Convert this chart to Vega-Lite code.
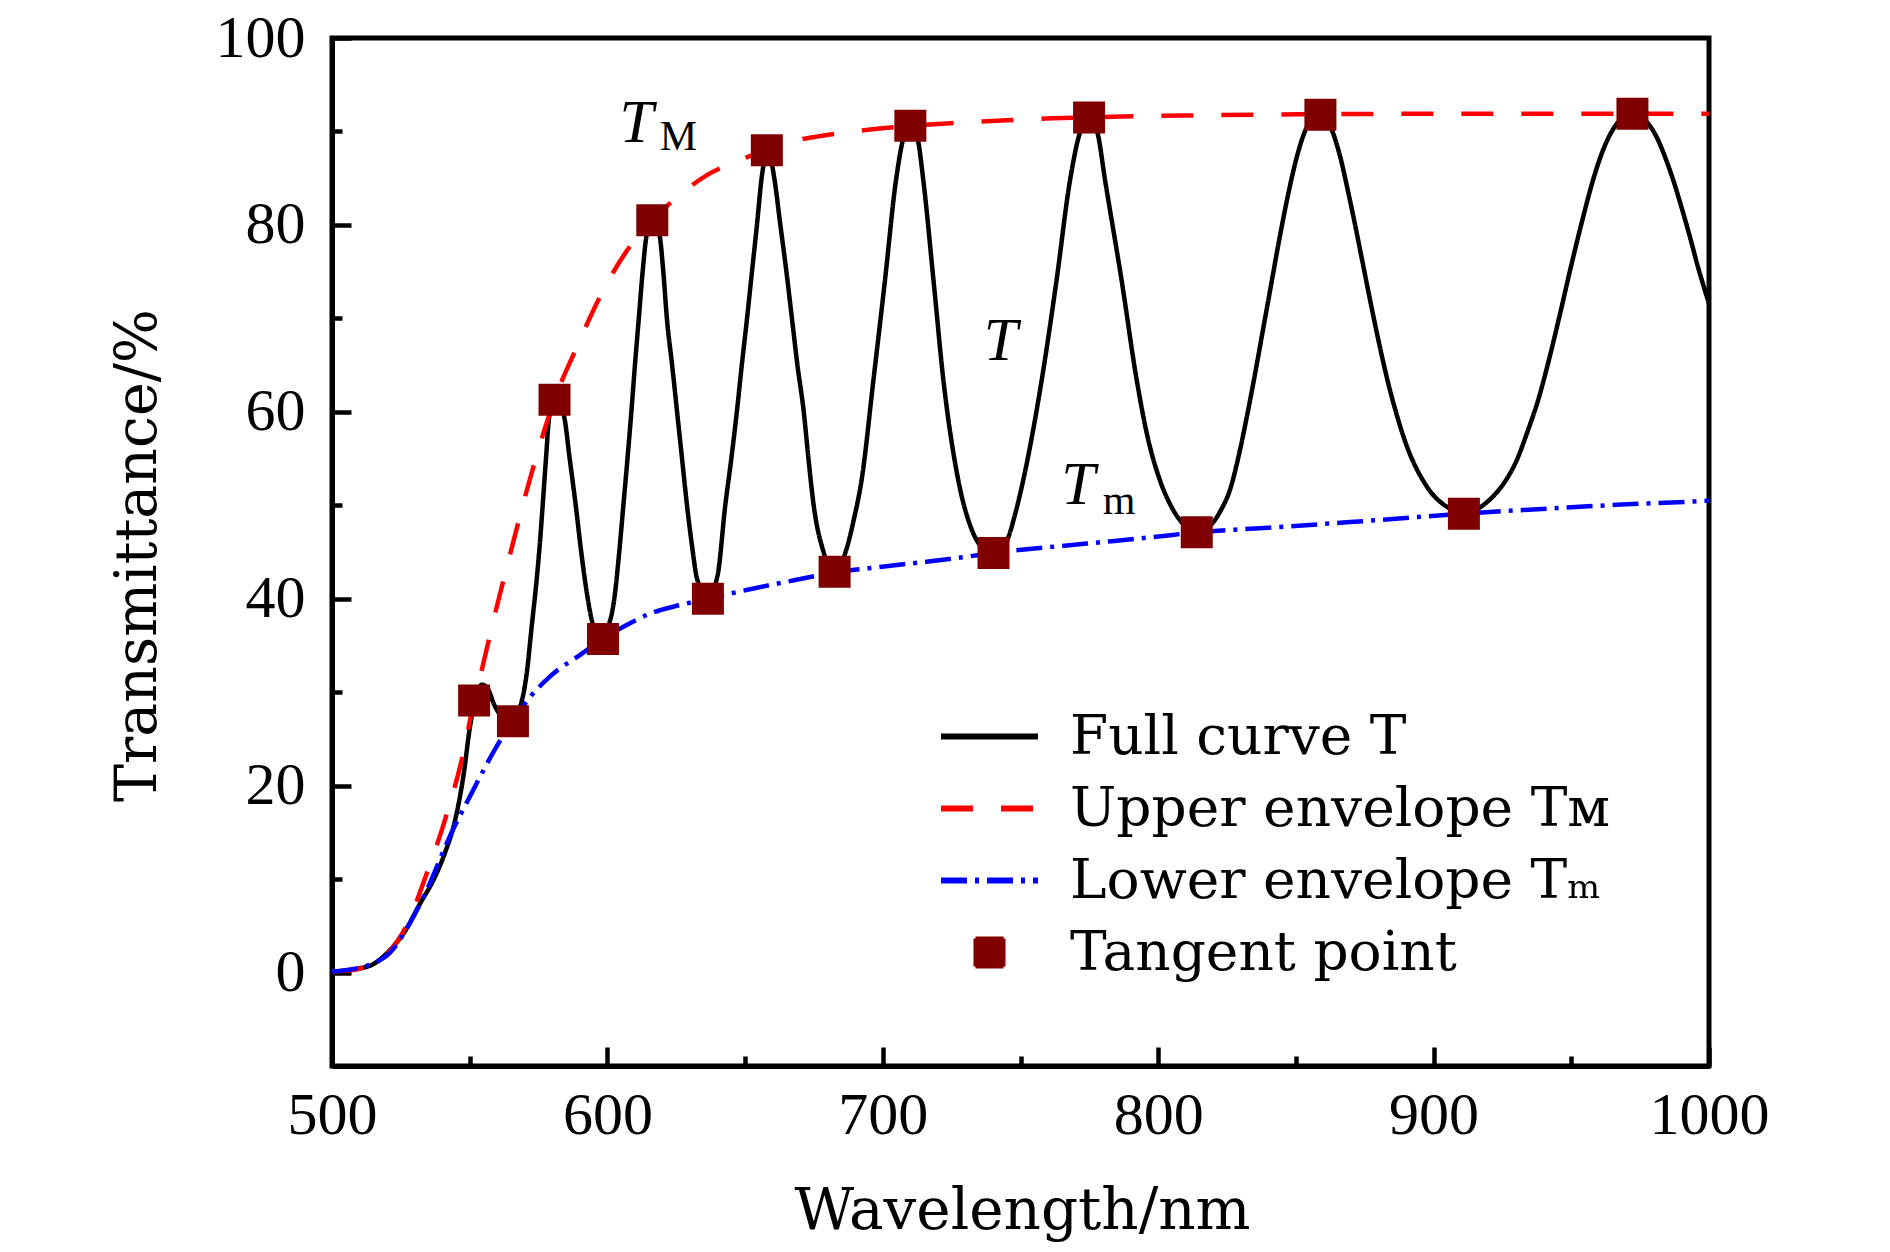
{
  "$schema": "https://vega.github.io/schema/vega-lite/v6.json",
  "width": 1377,
  "height": 1028,
  "autosize": {"type": "none"},
  "padding": {"left": 332, "top": 38, "right": 181, "bottom": 186},
  "background": "white",
  "config": {
    "view": {"stroke": "black", "strokeWidth": 5},
    "axis": {"grid": false, "domainColor": "black", "domainWidth": 5, "tickColor": "black", "tickWidth": 4.5, "labelColor": "black", "titleColor": "black", "labelFlush": false, "labelOverlap": false}
  },
  "datasets": {
    "curves": [
      {"series": "Full curve T", "wl": 500, "T": 0.1},
      {"series": "Full curve T", "wl": 505, "T": 0.2},
      {"series": "Full curve T", "wl": 510, "T": 0.45},
      {"series": "Full curve T", "wl": 515, "T": 0.9},
      {"series": "Full curve T", "wl": 521, "T": 2.4},
      {"series": "Full curve T", "wl": 526, "T": 4.2},
      {"series": "Full curve T", "wl": 532, "T": 7.4},
      {"series": "Full curve T", "wl": 537, "T": 10},
      {"series": "Full curve T", "wl": 541, "T": 12.8},
      {"series": "Full curve T", "wl": 544.7, "T": 16.3},
      {"series": "Full curve T", "wl": 547.7, "T": 21},
      {"series": "Full curve T", "wl": 550.1, "T": 26.3},
      {"series": "Full curve T", "wl": 552.5, "T": 29.8},
      {"series": "Full curve T", "wl": 554.5, "T": 30.8},
      {"series": "Full curve T", "wl": 556.5, "T": 30.4},
      {"series": "Full curve T", "wl": 559, "T": 28.6},
      {"series": "Full curve T", "wl": 562, "T": 27.3},
      {"series": "Full curve T", "wl": 565.5, "T": 26.9},
      {"series": "Full curve T", "wl": 568.3, "T": 28.4},
      {"series": "Full curve T", "wl": 570.7, "T": 32},
      {"series": "Full curve T", "wl": 572.5, "T": 37},
      {"series": "Full curve T", "wl": 574.3, "T": 42},
      {"series": "Full curve T", "wl": 575.5, "T": 46},
      {"series": "Full curve T", "wl": 576.5, "T": 50},
      {"series": "Full curve T", "wl": 577.7, "T": 55},
      {"series": "Full curve T", "wl": 578.9, "T": 59.5},
      {"series": "Full curve T", "wl": 581.5, "T": 61.4},
      {"series": "Full curve T", "wl": 584.3, "T": 59.5},
      {"series": "Full curve T", "wl": 586.3, "T": 55},
      {"series": "Full curve T", "wl": 588.5, "T": 50},
      {"series": "Full curve T", "wl": 590.5, "T": 45},
      {"series": "Full curve T", "wl": 592.6, "T": 40.5},
      {"series": "Full curve T", "wl": 594.5, "T": 37.5},
      {"series": "Full curve T", "wl": 597.5, "T": 35.8},
      {"series": "Full curve T", "wl": 600.5, "T": 37.2},
      {"series": "Full curve T", "wl": 602.5, "T": 40},
      {"series": "Full curve T", "wl": 604.3, "T": 45},
      {"series": "Full curve T", "wl": 605.8, "T": 50},
      {"series": "Full curve T", "wl": 607.3, "T": 55},
      {"series": "Full curve T", "wl": 608.7, "T": 60},
      {"series": "Full curve T", "wl": 610, "T": 65},
      {"series": "Full curve T", "wl": 611.4, "T": 70},
      {"series": "Full curve T", "wl": 612.8, "T": 75},
      {"series": "Full curve T", "wl": 614.3, "T": 79},
      {"series": "Full curve T", "wl": 616.6, "T": 80.6},
      {"series": "Full curve T", "wl": 618.9, "T": 79},
      {"series": "Full curve T", "wl": 620.3, "T": 75},
      {"series": "Full curve T", "wl": 621.6, "T": 70},
      {"series": "Full curve T", "wl": 623.5, "T": 65},
      {"series": "Full curve T", "wl": 625.3, "T": 60},
      {"series": "Full curve T", "wl": 627.1, "T": 55},
      {"series": "Full curve T", "wl": 628.9, "T": 50},
      {"series": "Full curve T", "wl": 630.8, "T": 45.5},
      {"series": "Full curve T", "wl": 632.5, "T": 42.2},
      {"series": "Full curve T", "wl": 636.3, "T": 40.1},
      {"series": "Full curve T", "wl": 640, "T": 42.5},
      {"series": "Full curve T", "wl": 642.8, "T": 50},
      {"series": "Full curve T", "wl": 645, "T": 55},
      {"series": "Full curve T", "wl": 647, "T": 60},
      {"series": "Full curve T", "wl": 648.8, "T": 65},
      {"series": "Full curve T", "wl": 650.7, "T": 70},
      {"series": "Full curve T", "wl": 652.5, "T": 75},
      {"series": "Full curve T", "wl": 654.3, "T": 80},
      {"series": "Full curve T", "wl": 656, "T": 85},
      {"series": "Full curve T", "wl": 658.2, "T": 88.1},
      {"series": "Full curve T", "wl": 660.6, "T": 85},
      {"series": "Full curve T", "wl": 662.8, "T": 80},
      {"series": "Full curve T", "wl": 665, "T": 75},
      {"series": "Full curve T", "wl": 667, "T": 70},
      {"series": "Full curve T", "wl": 669, "T": 65},
      {"series": "Full curve T", "wl": 671.3, "T": 60},
      {"series": "Full curve T", "wl": 673, "T": 55},
      {"series": "Full curve T", "wl": 674.9, "T": 50},
      {"series": "Full curve T", "wl": 678.5, "T": 45},
      {"series": "Full curve T", "wl": 682.4, "T": 42.8},
      {"series": "Full curve T", "wl": 687, "T": 45.5},
      {"series": "Full curve T", "wl": 689.5, "T": 48.5},
      {"series": "Full curve T", "wl": 692.3, "T": 52.7},
      {"series": "Full curve T", "wl": 696.6, "T": 63.4},
      {"series": "Full curve T", "wl": 700.8, "T": 74.1},
      {"series": "Full curve T", "wl": 704.8, "T": 84.8},
      {"series": "Full curve T", "wl": 707.5, "T": 89.3},
      {"series": "Full curve T", "wl": 710.2, "T": 90.7},
      {"series": "Full curve T", "wl": 712.6, "T": 89.3},
      {"series": "Full curve T", "wl": 714.7, "T": 84.8},
      {"series": "Full curve T", "wl": 718.4, "T": 74.1},
      {"series": "Full curve T", "wl": 722, "T": 63.4},
      {"series": "Full curve T", "wl": 727.4, "T": 52.7},
      {"series": "Full curve T", "wl": 732.3, "T": 47.4},
      {"series": "Full curve T", "wl": 736, "T": 45.5},
      {"series": "Full curve T", "wl": 740.2, "T": 44.9},
      {"series": "Full curve T", "wl": 745, "T": 46.2},
      {"series": "Full curve T", "wl": 748, "T": 49},
      {"series": "Full curve T", "wl": 751, "T": 52.7},
      {"series": "Full curve T", "wl": 757.7, "T": 63.4},
      {"series": "Full curve T", "wl": 763.1, "T": 74.1},
      {"series": "Full curve T", "wl": 768, "T": 84.8},
      {"series": "Full curve T", "wl": 771.5, "T": 89.8},
      {"series": "Full curve T", "wl": 775, "T": 91.5},
      {"series": "Full curve T", "wl": 778, "T": 89.8},
      {"series": "Full curve T", "wl": 780.7, "T": 84.8},
      {"series": "Full curve T", "wl": 786.7, "T": 74.1},
      {"series": "Full curve T", "wl": 792.2, "T": 63.4},
      {"series": "Full curve T", "wl": 796, "T": 57.5},
      {"series": "Full curve T", "wl": 800.6, "T": 52.7},
      {"series": "Full curve T", "wl": 804, "T": 50.3},
      {"series": "Full curve T", "wl": 807.9, "T": 48.4},
      {"series": "Full curve T", "wl": 811, "T": 47.5},
      {"series": "Full curve T", "wl": 814, "T": 47.1},
      {"series": "Full curve T", "wl": 817, "T": 47.4},
      {"series": "Full curve T", "wl": 820, "T": 48.2},
      {"series": "Full curve T", "wl": 823, "T": 49.6},
      {"series": "Full curve T", "wl": 826, "T": 51.6},
      {"series": "Full curve T", "wl": 829, "T": 55},
      {"series": "Full curve T", "wl": 832, "T": 59.2},
      {"series": "Full curve T", "wl": 835, "T": 63.8},
      {"series": "Full curve T", "wl": 838, "T": 68.7},
      {"series": "Full curve T", "wl": 841, "T": 73.6},
      {"series": "Full curve T", "wl": 844, "T": 78.5},
      {"series": "Full curve T", "wl": 847, "T": 83.0},
      {"series": "Full curve T", "wl": 850, "T": 86.9},
      {"series": "Full curve T", "wl": 853, "T": 89.8},
      {"series": "Full curve T", "wl": 856, "T": 91.4},
      {"series": "Full curve T", "wl": 859, "T": 91.8},
      {"series": "Full curve T", "wl": 861.5, "T": 91.1},
      {"series": "Full curve T", "wl": 864, "T": 89.4},
      {"series": "Full curve T", "wl": 866.5, "T": 86.8},
      {"series": "Full curve T", "wl": 869, "T": 83.5},
      {"series": "Full curve T", "wl": 871.5, "T": 80.0},
      {"series": "Full curve T", "wl": 874, "T": 76.3},
      {"series": "Full curve T", "wl": 876.5, "T": 72.6},
      {"series": "Full curve T", "wl": 879, "T": 69.0},
      {"series": "Full curve T", "wl": 881.5, "T": 65.6},
      {"series": "Full curve T", "wl": 884, "T": 62.5},
      {"series": "Full curve T", "wl": 886.5, "T": 59.8},
      {"series": "Full curve T", "wl": 889, "T": 57.4},
      {"series": "Full curve T", "wl": 891.5, "T": 55.4},
      {"series": "Full curve T", "wl": 894, "T": 53.8},
      {"series": "Full curve T", "wl": 896.5, "T": 52.5},
      {"series": "Full curve T", "wl": 899, "T": 51.4},
      {"series": "Full curve T", "wl": 901.5, "T": 50.6},
      {"series": "Full curve T", "wl": 904, "T": 50.0},
      {"series": "Full curve T", "wl": 907, "T": 49.5},
      {"series": "Full curve T", "wl": 911, "T": 49.1},
      {"series": "Full curve T", "wl": 914, "T": 49.3},
      {"series": "Full curve T", "wl": 917, "T": 49.8},
      {"series": "Full curve T", "wl": 920, "T": 50.5},
      {"series": "Full curve T", "wl": 923, "T": 51.4},
      {"series": "Full curve T", "wl": 926.5, "T": 52.8},
      {"series": "Full curve T", "wl": 930, "T": 54.7},
      {"series": "Full curve T", "wl": 934, "T": 57.8},
      {"series": "Full curve T", "wl": 938, "T": 61.3},
      {"series": "Full curve T", "wl": 942, "T": 65.7},
      {"series": "Full curve T", "wl": 946, "T": 70.6},
      {"series": "Full curve T", "wl": 950, "T": 75.7},
      {"series": "Full curve T", "wl": 954, "T": 80.5},
      {"series": "Full curve T", "wl": 957.5, "T": 84.4},
      {"series": "Full curve T", "wl": 961, "T": 87.6},
      {"series": "Full curve T", "wl": 964.5, "T": 89.9},
      {"series": "Full curve T", "wl": 968, "T": 91.3},
      {"series": "Full curve T", "wl": 972.3, "T": 91.9},
      {"series": "Full curve T", "wl": 975, "T": 91.6},
      {"series": "Full curve T", "wl": 978, "T": 90.8},
      {"series": "Full curve T", "wl": 981, "T": 89.4},
      {"series": "Full curve T", "wl": 984, "T": 87.3},
      {"series": "Full curve T", "wl": 987, "T": 84.8},
      {"series": "Full curve T", "wl": 990, "T": 81.9},
      {"series": "Full curve T", "wl": 993, "T": 78.8},
      {"series": "Full curve T", "wl": 996, "T": 75.5},
      {"series": "Full curve T", "wl": 1000, "T": 71.6},
      {"series": "Upper envelope Tᴍ", "wl": 500, "T": 0.1},
      {"series": "Upper envelope Tᴍ", "wl": 510, "T": 0.4},
      {"series": "Upper envelope Tᴍ", "wl": 520, "T": 2.0},
      {"series": "Upper envelope Tᴍ", "wl": 527, "T": 5.0},
      {"series": "Upper envelope Tᴍ", "wl": 534.4, "T": 10.6},
      {"series": "Upper envelope Tᴍ", "wl": 541, "T": 16.3},
      {"series": "Upper envelope Tᴍ", "wl": 547.7, "T": 23.5},
      {"series": "Upper envelope Tᴍ", "wl": 551.6, "T": 29.1},
      {"series": "Upper envelope Tᴍ", "wl": 554.4, "T": 32.4},
      {"series": "Upper envelope Tᴍ", "wl": 559.2, "T": 38.4},
      {"series": "Upper envelope Tᴍ", "wl": 564.1, "T": 44.1},
      {"series": "Upper envelope Tᴍ", "wl": 571.4, "T": 52.3},
      {"series": "Upper envelope Tᴍ", "wl": 577.5, "T": 58.4},
      {"series": "Upper envelope Tᴍ", "wl": 580.8, "T": 61.3},
      {"series": "Upper envelope Tᴍ", "wl": 588.4, "T": 66.6},
      {"series": "Upper envelope Tᴍ", "wl": 598, "T": 72.7},
      {"series": "Upper envelope Tᴍ", "wl": 606.5, "T": 77},
      {"series": "Upper envelope Tᴍ", "wl": 616.3, "T": 80.5},
      {"series": "Upper envelope Tᴍ", "wl": 627.1, "T": 83.4},
      {"series": "Upper envelope Tᴍ", "wl": 636, "T": 85.3},
      {"series": "Upper envelope Tᴍ", "wl": 645.2, "T": 86.6},
      {"series": "Upper envelope Tᴍ", "wl": 657.9, "T": 88},
      {"series": "Upper envelope Tᴍ", "wl": 668, "T": 89},
      {"series": "Upper envelope Tᴍ", "wl": 677.2, "T": 89.5},
      {"series": "Upper envelope Tᴍ", "wl": 689.3, "T": 90},
      {"series": "Upper envelope Tᴍ", "wl": 710, "T": 90.6},
      {"series": "Upper envelope Tᴍ", "wl": 725.6, "T": 90.9},
      {"series": "Upper envelope Tᴍ", "wl": 745, "T": 91.2},
      {"series": "Upper envelope Tᴍ", "wl": 761.9, "T": 91.4},
      {"series": "Upper envelope Tᴍ", "wl": 774.9, "T": 91.5},
      {"series": "Upper envelope Tᴍ", "wl": 786.5, "T": 91.6},
      {"series": "Upper envelope Tᴍ", "wl": 810, "T": 91.7},
      {"series": "Upper envelope Tᴍ", "wl": 834.5, "T": 91.8},
      {"series": "Upper envelope Tᴍ", "wl": 860, "T": 91.85},
      {"series": "Upper envelope Tᴍ", "wl": 900, "T": 91.9},
      {"series": "Upper envelope Tᴍ", "wl": 950, "T": 91.9},
      {"series": "Upper envelope Tᴍ", "wl": 1000, "T": 91.9},
      {"series": "Lower envelope Tₘ", "wl": 500, "T": 0.1},
      {"series": "Lower envelope Tₘ", "wl": 511, "T": 0.6},
      {"series": "Lower envelope Tₘ", "wl": 516, "T": 1.1},
      {"series": "Lower envelope Tₘ", "wl": 521, "T": 2.1},
      {"series": "Lower envelope Tₘ", "wl": 528.3, "T": 5.3},
      {"series": "Lower envelope Tₘ", "wl": 534.4, "T": 8.8},
      {"series": "Lower envelope Tₘ", "wl": 542.2, "T": 14.2},
      {"series": "Lower envelope Tₘ", "wl": 550.7, "T": 19.2},
      {"series": "Lower envelope Tₘ", "wl": 559.8, "T": 24.2},
      {"series": "Lower envelope Tₘ", "wl": 565.7, "T": 26.9},
      {"series": "Lower envelope Tₘ", "wl": 572, "T": 29.5},
      {"series": "Lower envelope Tₘ", "wl": 579.2, "T": 31.7},
      {"series": "Lower envelope Tₘ", "wl": 590.1, "T": 34},
      {"series": "Lower envelope Tₘ", "wl": 598.4, "T": 35.7},
      {"series": "Lower envelope Tₘ", "wl": 607, "T": 37.2},
      {"series": "Lower envelope Tₘ", "wl": 616.3, "T": 38.5},
      {"series": "Lower envelope Tₘ", "wl": 626, "T": 39.3},
      {"series": "Lower envelope Tₘ", "wl": 636.5, "T": 40},
      {"series": "Lower envelope Tₘ", "wl": 653.1, "T": 41.1},
      {"series": "Lower envelope Tₘ", "wl": 668.2, "T": 42},
      {"series": "Lower envelope Tₘ", "wl": 682.5, "T": 42.8},
      {"series": "Lower envelope Tₘ", "wl": 699, "T": 43.4},
      {"series": "Lower envelope Tₘ", "wl": 725.6, "T": 44.3},
      {"series": "Lower envelope Tₘ", "wl": 740.2, "T": 44.9},
      {"series": "Lower envelope Tₘ", "wl": 774, "T": 45.9},
      {"series": "Lower envelope Tₘ", "wl": 798.2, "T": 46.6},
      {"series": "Lower envelope Tₘ", "wl": 814, "T": 47.1},
      {"series": "Lower envelope Tₘ", "wl": 840, "T": 47.6},
      {"series": "Lower envelope Tₘ", "wl": 869.7, "T": 48.2},
      {"series": "Lower envelope Tₘ", "wl": 911, "T": 49.1},
      {"series": "Lower envelope Tₘ", "wl": 944.7, "T": 49.7},
      {"series": "Lower envelope Tₘ", "wl": 970, "T": 50.1},
      {"series": "Lower envelope Tₘ", "wl": 994.3, "T": 50.4},
      {"series": "Lower envelope Tₘ", "wl": 1000, "T": 50.5}
    ],
    "points": [
      {"series": "Tangent point", "wl": 551.6, "T": 29.1},
      {"series": "Tangent point", "wl": 565.7, "T": 26.9},
      {"series": "Tangent point", "wl": 580.8, "T": 61.3},
      {"series": "Tangent point", "wl": 598.4, "T": 35.7},
      {"series": "Tangent point", "wl": 616.3, "T": 80.5},
      {"series": "Tangent point", "wl": 636.5, "T": 40.0},
      {"series": "Tangent point", "wl": 657.9, "T": 88.0},
      {"series": "Tangent point", "wl": 682.5, "T": 42.9},
      {"series": "Tangent point", "wl": 710.0, "T": 90.6},
      {"series": "Tangent point", "wl": 740.2, "T": 44.9},
      {"series": "Tangent point", "wl": 774.9, "T": 91.5},
      {"series": "Tangent point", "wl": 814.0, "T": 47.1},
      {"series": "Tangent point", "wl": 858.9, "T": 91.8},
      {"series": "Tangent point", "wl": 911.0, "T": 49.1},
      {"series": "Tangent point", "wl": 972.2, "T": 91.9}
    ],
    "mainLabels": [
      {"wl": 610.6, "T": 88.9, "label": "T"},
      {"wl": 742.8, "T": 65.5, "label": "T"},
      {"wl": 771.0, "T": 50.1, "label": "T"}
    ],
    "subLabels": [
      {"wl": 625.8, "T": 88.0, "label": "M"},
      {"wl": 785.8, "T": 49.1, "label": "m"}
    ]
  },
  "layer": [
    {
      "data": {"name": "curves"},
      "transform": [{"filter": "datum.series === 'Full curve T'"}],
      "mark": {"type": "line", "interpolate": "monotone", "strokeWidth": 4.5, "clip": true},
      "encoding": {
        "x": {"field": "wl", "type": "quantitative", "scale": {"domain": [500, 1000], "nice": false, "zero": false},
          "axis": {"orient": "bottom", "values": [500, 600, 700, 800, 900, 1000], "format": "d", "tickSize": -19, "labelFont": "Liberation Serif", "labelFontSize": 60, "labelPadding": 86, "labelBaseline": "alphabetic",
            "title": "Wavelength/nm", "titleFont": "DejaVu Serif", "titleFontSize": 58, "titleFontWeight": "normal", "titleX": 690, "titleY": 162, "titleBaseline": "alphabetic", "titleAlign": "center"}},
        "y": {"field": "T", "type": "quantitative", "scale": {"domain": [-10, 100], "nice": false, "zero": false},
          "axis": {"orient": "left", "values": [0, 20, 40, 60, 80, 100], "format": "d", "tickSize": -19, "labelFont": "Liberation Serif", "labelFontSize": 60, "labelPadding": 46, "labelBaseline": "middle",
            "title": "Transmittance/%", "titleFont": "DejaVu Serif", "titleFontSize": 57, "titleFontWeight": "normal", "titleX": -177, "titleY": 517, "titleAngle": 270, "titleBaseline": "alphabetic", "titleAlign": "center"}},
        "color": {"field": "series", "type": "nominal",
          "scale": {"domain": ["Full curve T", "Upper envelope Tᴍ", "Lower envelope Tₘ", "Tangent point"], "range": ["#000000", "#ff0000", "#0000ff", "#800000"]},
          "legend": {"title": null, "orient": "none", "legendX": 630, "legendY": 671, "padding": 0, "rowPadding": 16, "symbolSize": 1024, "symbolStrokeWidth": 5, "labelFont": "DejaVu Serif", "labelFontSize": 55, "labelOffset": 53, "labelColor": "black", "labelLimit": 1000,
            "encode": {"symbols": {"update": {
              "fill": {"signal": "datum.value === 'Tangent point' ? '#800000' : 'transparent'"},
              "stroke": {"scale": "color", "field": "value"},
              "strokeDash": {"scale": "strokeDash", "field": "value"},
              "shape": {"signal": "datum.value === 'Tangent point' ? 'square' : 'stroke'"},
              "size": {"signal": "datum.value === 'Tangent point' ? 784 : 9409"},
              "strokeWidth": {"signal": "datum.value === 'Tangent point' ? 4 : 6"},
              "opacity": {"value": 1}}}}}},
        "strokeDash": {"field": "series", "type": "nominal",
          "scale": {"domain": ["Full curve T", "Upper envelope Tᴍ", "Lower envelope Tₘ", "Tangent point"], "range": [[1, 0], [32, 28], [26, 8, 4, 8], [1, 0]]},
          "legend": null}
      }
    },
    {
      "data": {"name": "curves"},
      "transform": [{"filter": "datum.series === 'Upper envelope Tᴍ'"}],
      "mark": {"type": "line", "interpolate": "monotone", "strokeWidth": 4.5, "clip": true},
      "encoding": {
        "x": {"field": "wl", "type": "quantitative", "scale": {"domain": [500, 1000], "nice": false, "zero": false},
          "axis": {"orient": "bottom", "values": [550, 650, 750, 850, 950], "tickSize": -10, "labels": false, "domain": false, "title": null}},
        "y": {"field": "T", "type": "quantitative", "scale": {"domain": [-10, 100], "nice": false, "zero": false},
          "axis": {"orient": "left", "values": [10, 30, 50, 70, 90], "tickSize": -10, "labels": false, "domain": false, "title": null}},
        "color": {"field": "series", "type": "nominal", "legend": null},
        "strokeDash": {"field": "series", "type": "nominal", "legend": null}
      }
    },
    {
      "data": {"name": "curves"},
      "transform": [{"filter": "datum.series === 'Lower envelope Tₘ'"}],
      "mark": {"type": "line", "interpolate": "monotone", "strokeWidth": 4.5, "clip": true},
      "encoding": {
        "x": {"field": "wl", "type": "quantitative", "scale": {"domain": [500, 1000], "nice": false, "zero": false}, "axis": null},
        "y": {"field": "T", "type": "quantitative", "scale": {"domain": [-10, 100], "nice": false, "zero": false}, "axis": null},
        "color": {"field": "series", "type": "nominal", "legend": null},
        "strokeDash": {"field": "series", "type": "nominal", "legend": null}
      }
    },
    {
      "data": {"name": "points"},
      "mark": {"type": "point", "shape": "square", "filled": true, "size": 1024, "opacity": 1, "strokeWidth": 0},
      "encoding": {
        "x": {"field": "wl", "type": "quantitative", "scale": {"domain": [500, 1000], "nice": false, "zero": false}, "axis": null},
        "y": {"field": "T", "type": "quantitative", "scale": {"domain": [-10, 100], "nice": false, "zero": false}, "axis": null},
        "color": {"field": "series", "type": "nominal"}
      }
    },
    {
      "data": {"name": "mainLabels"},
      "mark": {"type": "text", "font": "Liberation Serif", "fontStyle": "italic", "fontSize": 61, "align": "center", "baseline": "alphabetic", "color": "black"},
      "encoding": {
        "x": {"field": "wl", "type": "quantitative", "scale": {"domain": [500, 1000], "nice": false, "zero": false}, "axis": null},
        "y": {"field": "T", "type": "quantitative", "scale": {"domain": [-10, 100], "nice": false, "zero": false}, "axis": null},
        "text": {"field": "label"}
      }
    },
    {
      "data": {"name": "subLabels"},
      "mark": {"type": "text", "font": "Liberation Serif", "fontSize": 42, "align": "center", "baseline": "alphabetic", "color": "black"},
      "encoding": {
        "x": {"field": "wl", "type": "quantitative", "scale": {"domain": [500, 1000], "nice": false, "zero": false}, "axis": null},
        "y": {"field": "T", "type": "quantitative", "scale": {"domain": [-10, 100], "nice": false, "zero": false}, "axis": null},
        "text": {"field": "label"}
      }
    }
  ],
  "resolve": {"axis": {"x": "independent", "y": "independent"}}
}
